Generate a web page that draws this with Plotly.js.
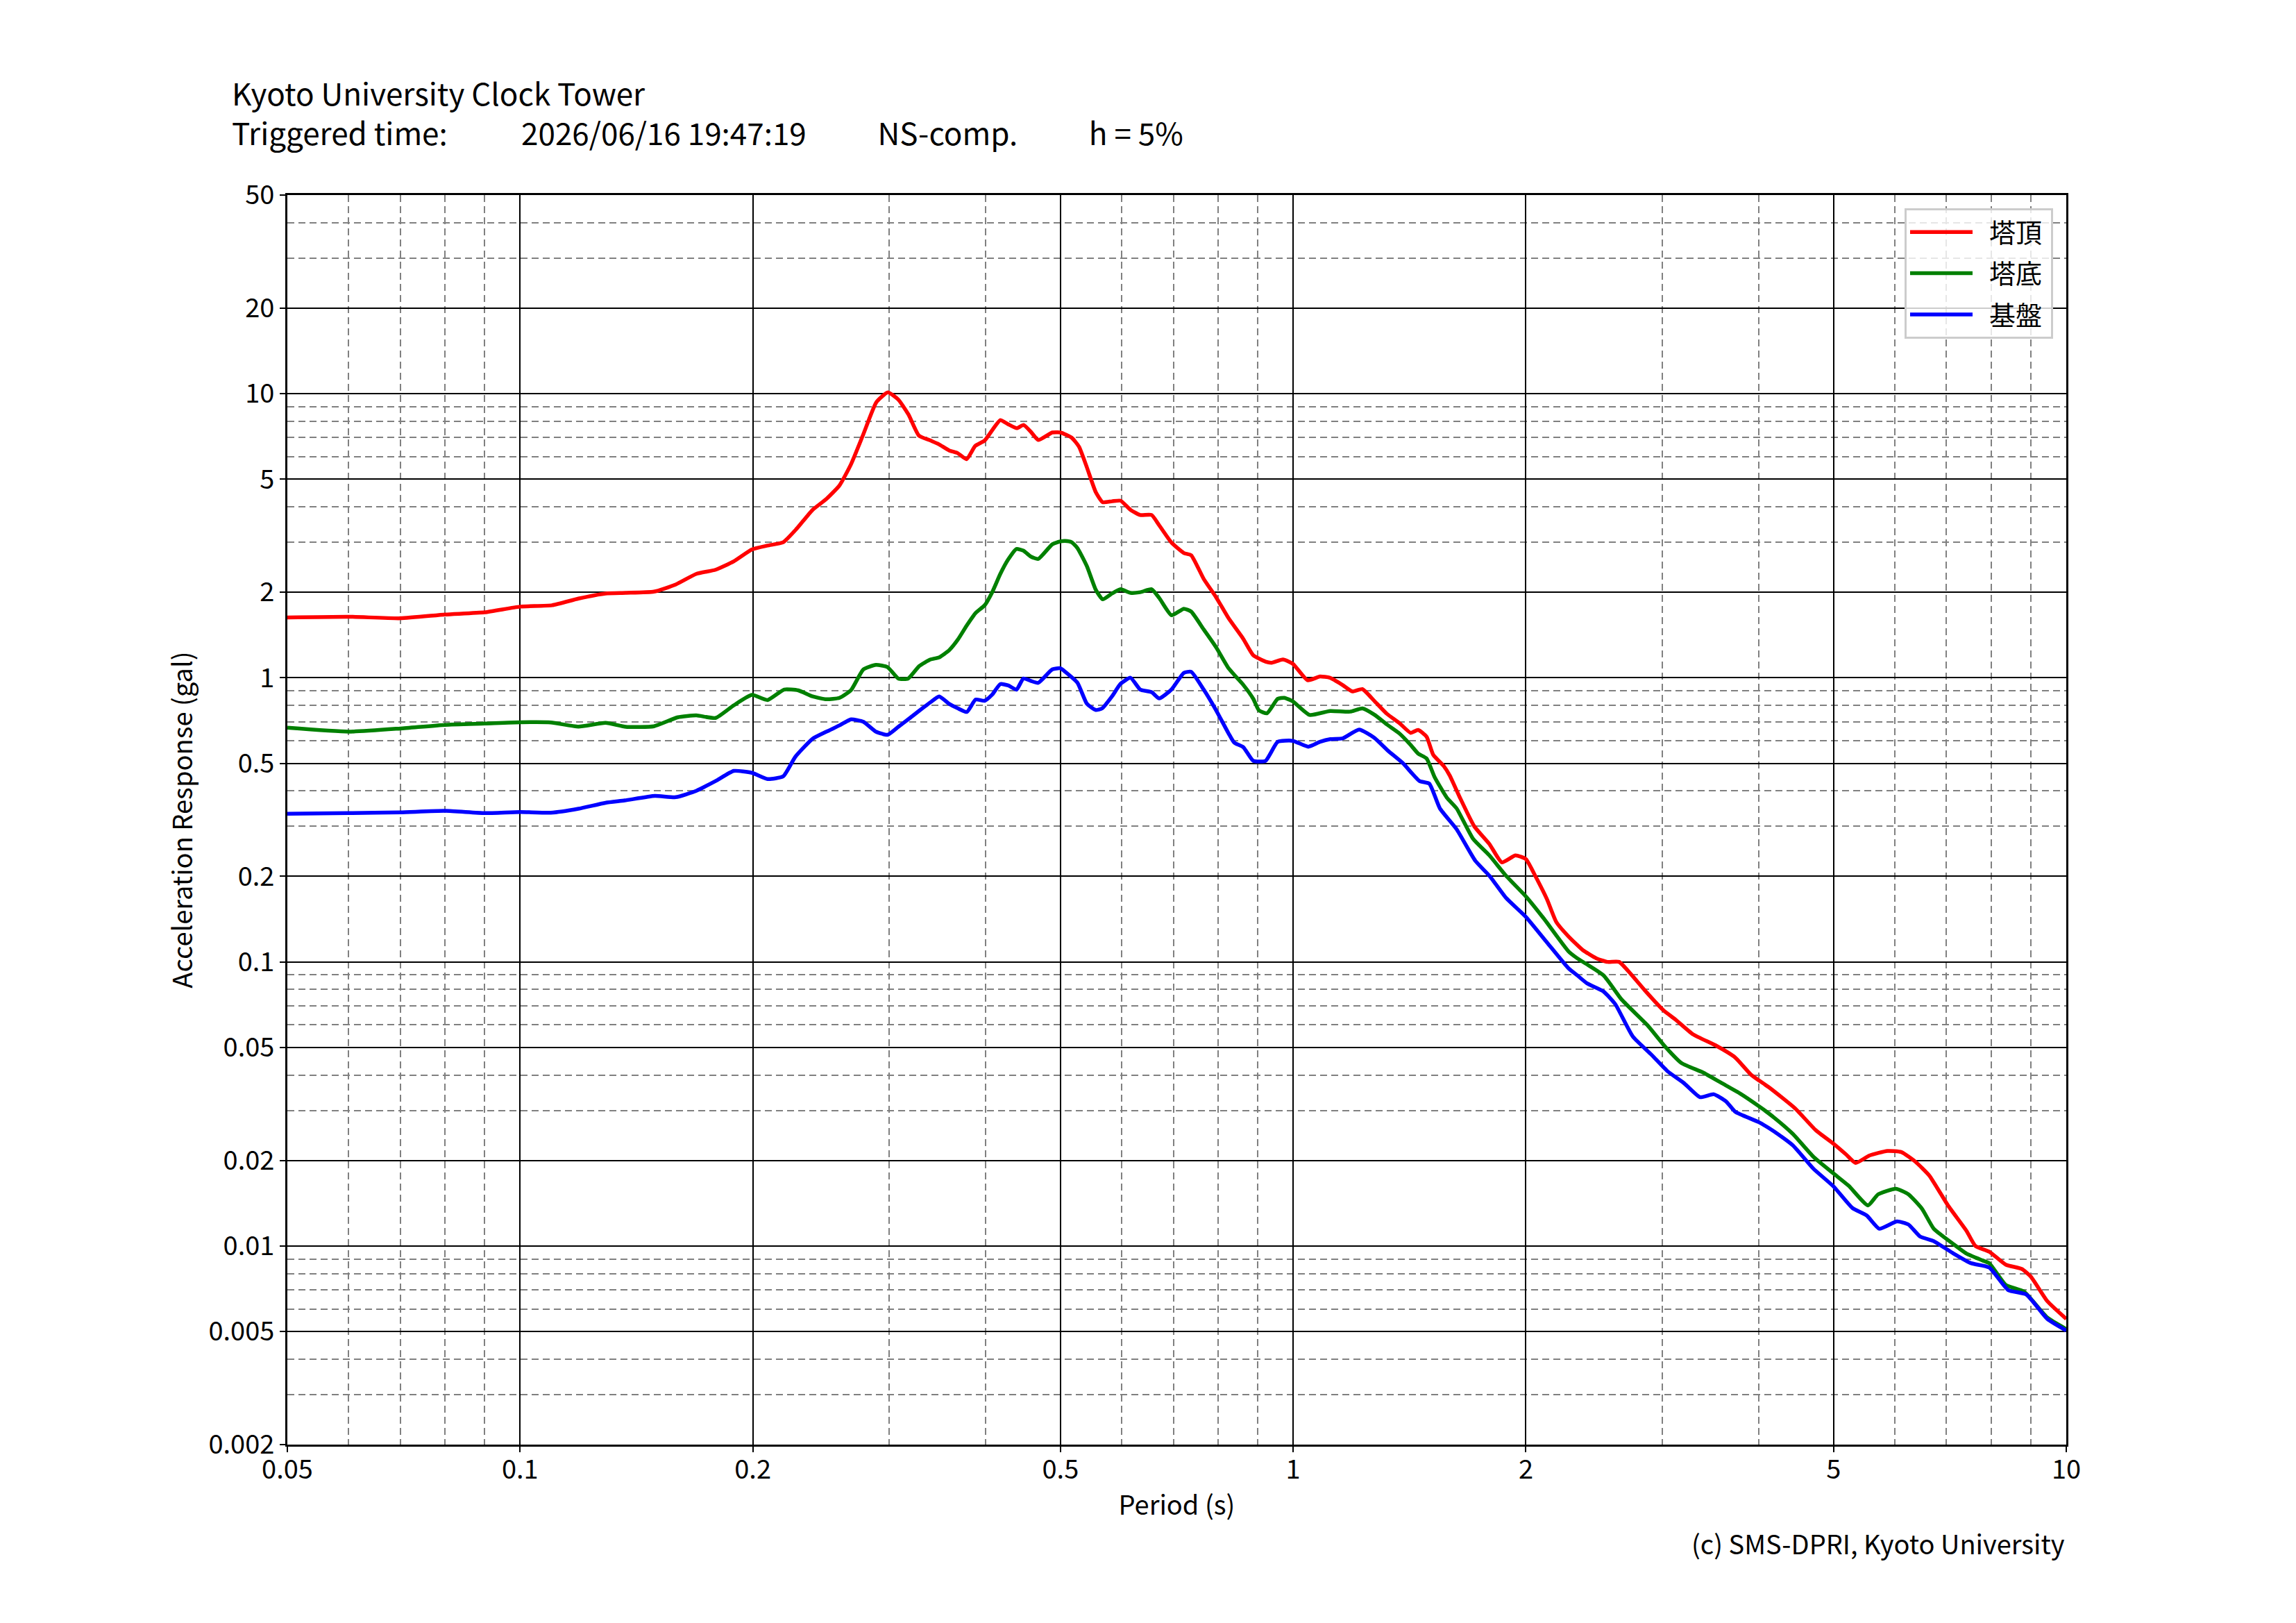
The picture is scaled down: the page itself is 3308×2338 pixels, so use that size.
<!DOCTYPE html>
<html>
<head>
<meta charset="utf-8">
<script src="https://cdn.plot.ly/plotly-3.0.1.min.js"></script>
<style>
  html, body { margin: 0; padding: 0; background: #ffffff; }
  #chart { width: 3308px; height: 2338px; }
</style>
</head>
<body>
<div id="chart"></div>
<script>
// ---------- data ----------
const redPeriod = [0.05, 0.06, 0.07, 0.08, 0.09, 0.10, 0.11, 0.119, 0.129, 0.137, 0.149, 0.159, 0.169, 0.179, 0.189,
  0.1995, 0.209, 0.219, 0.228, 0.239, 0.249, 0.259, 0.268, 0.278, 0.289, 0.299, 0.3085, 0.318, 0.328, 0.3395,
  0.348, 0.359, 0.368, 0.378, 0.388, 0.399, 0.418, 0.428, 0.439, 0.448, 0.458, 0.468, 0.488, 0.50, 0.517,
  0.5285, 0.541, 0.5555, 0.567, 0.583, 0.598, 0.616, 0.634, 0.656, 0.671, 0.696, 0.722, 0.738, 0.766, 0.795,
  0.825, 0.862, 0.888, 0.921, 0.938, 0.97, 0.999, 1.044, 1.083, 1.116, 1.158, 1.193, 1.229, 1.275, 1.322,
  1.372, 1.419, 1.451, 1.488, 1.518, 1.565, 1.594, 1.64, 1.715, 1.794, 1.862, 1.939, 2.0, 2.06, 2.13,
  2.19, 2.27, 2.37, 2.466, 2.55, 2.64, 2.735, 2.85, 3.01, 3.12, 3.29, 3.53, 3.73, 3.91, 4.13,
  4.46, 4.74, 5.0, 5.19, 5.34, 5.56, 5.87, 6.12, 6.38, 6.65, 7.03, 7.43, 7.63, 7.95, 8.35,
  8.76, 9.0, 9.45, 10];
const redAcc = [1.63, 1.64, 1.62, 1.67, 1.70, 1.78, 1.80, 1.90, 1.98, 1.99, 2.01, 2.13, 2.32, 2.40, 2.57,
  2.83, 2.92, 3.0, 3.35, 3.9, 4.26, 4.76, 5.65, 7.2, 9.33, 10.1, 9.53, 8.44, 7.12, 6.84,
  6.64, 6.31, 6.18, 5.88, 6.55, 6.84, 8.07, 7.8, 7.56, 7.76, 7.33, 6.87, 7.3, 7.3, 7.0,
  6.5, 5.5, 4.5, 4.15, 4.18, 4.2, 3.9, 3.74, 3.74, 3.44, 2.99, 2.75, 2.70, 2.23, 1.92,
  1.62, 1.37, 1.20, 1.14, 1.13, 1.16, 1.12, 0.98, 1.01, 1.0, 0.944, 0.895, 0.912, 0.826, 0.747,
  0.693, 0.64, 0.655, 0.62, 0.535, 0.49, 0.453, 0.383, 0.30, 0.26, 0.224, 0.237, 0.23, 0.199, 0.166,
  0.138, 0.123, 0.11, 0.103, 0.100, 0.1, 0.0905, 0.0794, 0.0677, 0.0628, 0.0556, 0.0506, 0.0461, 0.0401, 0.0361,
  0.0305, 0.0256, 0.0229, 0.021, 0.0196, 0.0208, 0.0216, 0.0214, 0.0198, 0.0177, 0.0139, 0.0113, 0.0100, 0.00955, 0.0086,
  0.0083, 0.0078, 0.0064, 0.00554];

const greenPeriod = [0.05, 0.06, 0.07, 0.08, 0.09, 0.10, 0.1096, 0.119, 0.129, 0.137, 0.149, 0.16, 0.169, 0.179, 0.189,
  0.1995, 0.209, 0.2196, 0.229, 0.239, 0.249, 0.259, 0.268, 0.278, 0.2886, 0.2988, 0.3085, 0.3177, 0.3284, 0.3395,
  0.3484, 0.3589, 0.3682, 0.3784, 0.3883, 0.399, 0.408, 0.418, 0.428, 0.4386, 0.4478, 0.4578, 0.468, 0.488, 0.50,
  0.507, 0.517, 0.526, 0.541, 0.5555, 0.567, 0.583, 0.598, 0.616, 0.634, 0.656, 0.671, 0.696, 0.722, 0.738,
  0.766, 0.795, 0.825, 0.862, 0.888, 0.903, 0.925, 0.955, 0.974, 0.999, 1.05, 1.116, 1.185, 1.229, 1.275,
  1.322, 1.372, 1.419, 1.451, 1.488, 1.524, 1.58, 1.627, 1.709, 1.794, 1.885, 2.0, 2.11, 2.27, 2.33,
  2.52, 2.66, 2.87, 3.03, 3.18, 3.39, 3.58, 3.78, 4.0, 4.19, 4.43, 4.71, 5.0, 5.23, 5.54,
  5.71, 6.02, 6.25, 6.51, 6.74, 7.13, 7.43, 7.79, 7.95, 8.35, 8.82, 9.45, 10];
const greenAcc = [0.667, 0.646, 0.663, 0.683, 0.69, 0.697, 0.696, 0.673, 0.694, 0.672, 0.675, 0.726, 0.737, 0.722, 0.80,
  0.87, 0.835, 0.909, 0.903, 0.86, 0.84, 0.85, 0.905, 1.07, 1.11, 1.09, 0.994, 0.994, 1.10, 1.16,
  1.18, 1.25, 1.36, 1.53, 1.69, 1.80, 2.0, 2.32, 2.61, 2.84, 2.80, 2.67, 2.62, 2.95, 3.02,
  3.03, 3.0, 2.86, 2.47, 2.04, 1.89, 1.98, 2.05, 1.99, 2.0, 2.05, 1.91, 1.66, 1.75, 1.71,
  1.48, 1.28, 1.08, 0.944, 0.843, 0.768, 0.75, 0.843, 0.85, 0.826, 0.74, 0.764, 0.76, 0.78, 0.74,
  0.685, 0.637, 0.58, 0.541, 0.52, 0.447, 0.379, 0.347, 0.271, 0.237, 0.201, 0.170, 0.142, 0.109, 0.103,
  0.0897, 0.0737, 0.060, 0.0502, 0.044, 0.0408, 0.0375, 0.0345, 0.0311, 0.0283, 0.0248, 0.0206, 0.0180, 0.0163, 0.0139,
  0.0152, 0.0159, 0.0152, 0.0135, 0.0115, 0.0102, 0.0094, 0.0089, 0.0087, 0.0073, 0.0069, 0.0056, 0.0051];

const bluePeriod = [0.05, 0.06, 0.07, 0.08, 0.09, 0.10, 0.1096, 0.119, 0.129, 0.1366, 0.1494, 0.159, 0.169, 0.179, 0.189,
  0.1995, 0.209, 0.219, 0.227, 0.239, 0.249, 0.259, 0.268, 0.278, 0.2886, 0.2988, 0.3085, 0.3177, 0.3284, 0.3395,
  0.3484, 0.3589, 0.3682, 0.3784, 0.3883, 0.399, 0.408, 0.418, 0.428, 0.4386, 0.4478, 0.4578, 0.468, 0.488, 0.50,
  0.507, 0.526, 0.541, 0.5555, 0.566, 0.583, 0.598, 0.616, 0.634, 0.656, 0.671, 0.696, 0.722, 0.738, 0.766,
  0.795, 0.825, 0.839, 0.862, 0.888, 0.921, 0.955, 0.999, 1.046, 1.083, 1.117, 1.159, 1.217, 1.273, 1.327,
  1.387, 1.457, 1.5, 1.548, 1.627, 1.72, 1.794, 1.885, 2.0, 2.13, 2.27, 2.33, 2.40, 2.52, 2.61,
  2.75, 2.91, 3.05, 3.2, 3.36, 3.5, 3.63, 3.73, 4.0, 4.19, 4.43, 4.71, 5.0, 5.29, 5.52,
  5.73, 6.04, 6.25, 6.47, 6.74, 7.13, 7.53, 7.95, 8.41, 8.88, 9.45, 10];
const blueAcc = [0.332, 0.334, 0.336, 0.34, 0.334, 0.337, 0.335, 0.346, 0.363, 0.37, 0.384, 0.38, 0.40, 0.433, 0.47,
  0.463, 0.44, 0.45, 0.527, 0.61, 0.646, 0.68, 0.714, 0.70, 0.646, 0.63, 0.672, 0.714, 0.766, 0.82,
  0.86, 0.81, 0.781, 0.758, 0.838, 0.83, 0.872, 0.95, 0.94, 0.908, 0.994, 0.975, 0.96, 1.07, 1.08,
  1.05, 0.96, 0.81, 0.77, 0.78, 0.86, 0.952, 1.0, 0.909, 0.89, 0.846, 0.909, 1.04, 1.05, 0.909,
  0.768, 0.637, 0.591, 0.57, 0.51, 0.51, 0.595, 0.60, 0.572, 0.595, 0.608, 0.612, 0.657, 0.615, 0.553,
  0.50, 0.433, 0.424, 0.347, 0.293, 0.227, 0.201, 0.168, 0.144, 0.117, 0.095, 0.0897, 0.084, 0.0787, 0.071,
  0.0546, 0.047, 0.0412, 0.0375, 0.0334, 0.0342, 0.0323, 0.0297, 0.0273, 0.0253, 0.0226, 0.0187, 0.0162, 0.0136, 0.0128,
  0.0115, 0.0122, 0.0119, 0.0108, 0.0104, 0.00945, 0.0087, 0.0084, 0.0070, 0.00675, 0.00554, 0.00504];

const xMajor = [0.05, 0.1, 0.2, 0.5, 1, 2, 5, 10];
const xMajorText = ["0.05", "0.1", "0.2", "0.5", "1", "2", "5", "10"];
const xMinor = [0.06, 0.07, 0.08, 0.09, 0.3, 0.4, 0.6, 0.7, 0.8, 0.9, 3, 4, 6, 7, 8, 9];
const yMajor = [0.002, 0.005, 0.01, 0.02, 0.05, 0.1, 0.2, 0.5, 1, 2, 5, 10, 20, 50];
const yMajorText = ["0.002", "0.005", "0.01", "0.02", "0.05", "0.1", "0.2", "0.5", "1", "2", "5", "10", "20", "50"];
const yMinor = [0.003, 0.004, 0.006, 0.007, 0.008, 0.009, 0.03, 0.04, 0.06, 0.07, 0.08, 0.09,
  0.3, 0.4, 0.6, 0.7, 0.8, 0.9, 3, 4, 6, 7, 8, 9, 30, 40];

const seriesNames = ["塔頂", "塔底", "基盤"];
const titleLine1 = "Kyoto University Clock Tower";
const titleLine2 = ["Triggered time:", "2026/06/16 19:47:19", "NS-comp.", "h = 5%"];
const creditText = "(c) SMS-DPRI, Kyoto University";

// ---------- styling ----------
const FONT = "'Noto Sans CJK JP', 'Noto Sans', sans-serif";
const TICK_SIZE = 38;
const TITLE_SIZE = 44;

// plot area in pixels (matches the reference frame)
const W = 3308, H = 2338;
const M = { l: 414, r: 331, t: 281, b: 257 };
const plotW = W - M.l - M.r;
const plotH = H - M.t - M.b;
const px2x = (px) => (px - M.l) / plotW;
const py2y = (py) => (H - M.b - py) / plotH;

// wide spaces keep the header fields on their columns inside one text block
const EM = "\u2003", THIRD = "\u2004", QUARTER = "\u2005", SIXTH = "\u2006";
const headerText = titleLine1 + "<br>" +
  titleLine2[0] + EM + EM + QUARTER + SIXTH +
  titleLine2[1] + EM + EM + THIRD +
  titleLine2[2] + EM + EM + THIRD +
  titleLine2[3];

function line(name, x, y, color) {
  return {
    x: x, y: y, name: "\u2002" + name + "\u2009", legendgroup: name,
    type: "scatter", mode: "lines",
    line: { color: color, width: 5.5, shape: "spline", smoothing: 0.5 },
    hoverinfo: "skip",
  };
}

const traces = [
  line(seriesNames[0], redPeriod, redAcc, "#ff0000"),
  line(seriesNames[1], greenPeriod, greenAcc, "#008000"),
  line(seriesNames[2], bluePeriod, blueAcc, "#0000ff"),
];

function axisBase() {
  return {
    type: "log",
    showline: true, mirror: true, linecolor: "#000000", linewidth: 3,
    zeroline: false,
    tickmode: "array",
    ticks: "outside", ticklen: 8, tickwidth: 2, tickcolor: "#000000",
    tickfont: { family: FONT, size: TICK_SIZE, color: "#000000" },
    showgrid: true, gridcolor: "#000000", gridwidth: 2,
    minor: {
      tickmode: "array", ticks: "", showgrid: true,
      gridcolor: "#808080", gridwidth: 2, griddash: "10px,6px",
    },
  };
}

const xaxis = Object.assign(axisBase(), {
  range: [Math.log10(0.05), Math.log10(10)],
  tickvals: xMajor, ticktext: xMajorText,
  ticklabelstandoff: -8,
  title: { text: "Period (s)", font: { family: FONT, size: TICK_SIZE, color: "#000" }, standoff: 16 },
});
xaxis.minor.tickvals = xMinor;

const yaxis = Object.assign(axisBase(), {
  range: [Math.log10(0.002), Math.log10(50)],
  tickvals: yMajor, ticktext: yMajorText,
  title: { text: "Acceleration Response (gal)", font: { family: FONT, size: TICK_SIZE, color: "#000" }, standoff: 12 },
});
yaxis.minor.tickvals = yMinor;

function note(text, px, py, xanchor, size) {
  return {
    text: text, xref: "paper", yref: "paper",
    x: px2x(px), y: py2y(py), xanchor: xanchor, yanchor: "middle", align: xanchor,
    showarrow: false, font: { family: FONT, size: size, color: "#000000" },
  };
}

const annotations = [
  note(headerText, 332, 161, "left", TITLE_SIZE),
  note(creditText, 2977, 2222, "right", TICK_SIZE),
];

const layout = {
  width: W, height: H,
  margin: M,
  paper_bgcolor: "#ffffff",
  plot_bgcolor: "#ffffff",
  font: { family: FONT, size: TICK_SIZE, color: "#000000" },
  xaxis: xaxis,
  yaxis: yaxis,
  showlegend: true,
  legend: {
    x: px2x(2958), y: py2y(300), xanchor: "right", yanchor: "top",
    bgcolor: "rgba(255,255,255,0.8)", bordercolor: "#cccccc", borderwidth: 3,
    font: { family: FONT, size: TICK_SIZE, color: "#000000" },
    traceorder: "grouped", tracegroupgap: 7,
    itemwidth: 90,
  },
  annotations: annotations,
};

Plotly.newPlot("chart", traces, layout, { displayModeBar: false, staticPlot: true });
</script>
</body>
</html>
